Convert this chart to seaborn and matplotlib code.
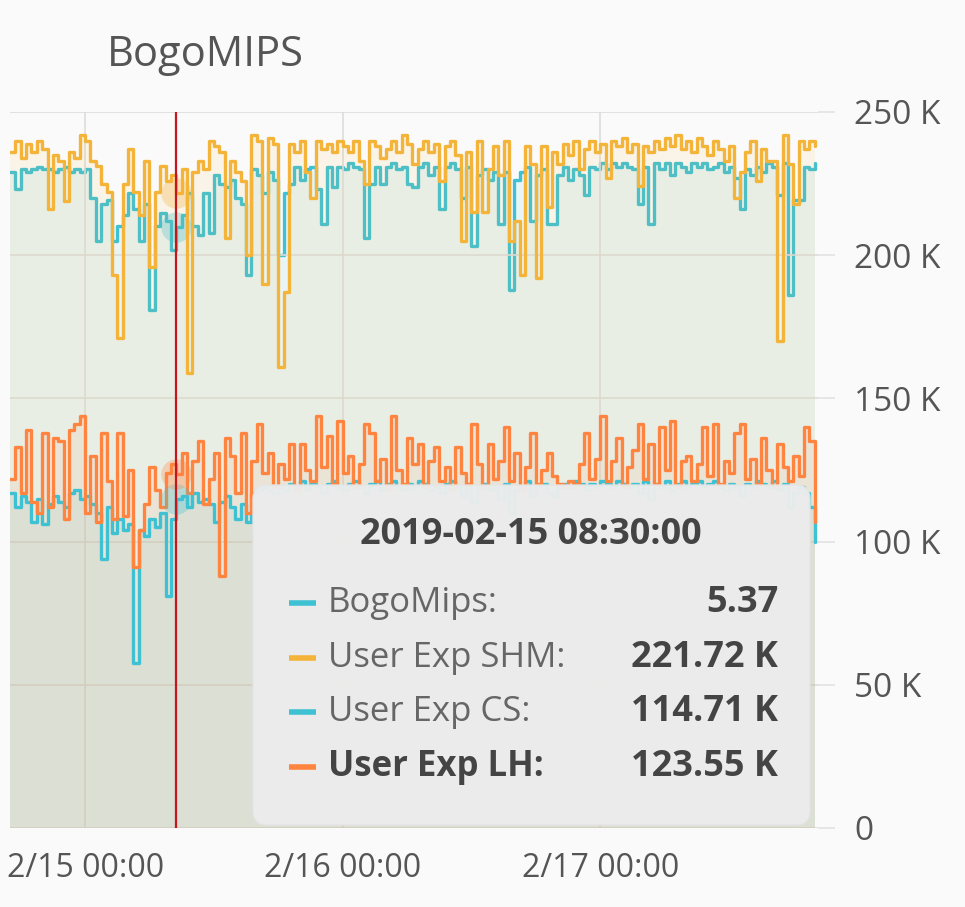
import pandas as pd
import matplotlib
matplotlib.use("Agg")
import matplotlib.pyplot as plt
import matplotlib.dates as mdates
import seaborn as sns
from matplotlib.patches import FancyBboxPatch
from matplotlib.lines import Line2D
from matplotlib.transforms import IdentityTransform

# samples every 30 min, 2019-02-14 17:00 -> 2019-02-17 20:00
times = pd.date_range("2019-02-14 17:00", periods=151, freq="30min")

# BogoMips (left axis, units)
bogomips = [
    5.86, 5.71, 5.89, 5.86, 5.89, 5.91, 5.89, 5.89, 5.86, 5.89,
    5.91, 5.86, 5.89, 5.86, 5.89, 5.63, 5.25, 5.58, 5.61, 5.25,
    5.38, 5.48, 5.68, 5.53, 5.25, 5.58, 4.63, 5.38, 5.50, 5.43,
    5.17, 5.37, 5.48, 5.68, 5.38, 5.30, 5.68, 5.32, 5.84, 5.76,
    5.73, 5.79, 5.63, 5.58, 4.94, 5.89, 5.84, 5.68, 5.86, 5.79,
    5.12, 5.68, 5.76, 5.91, 5.79, 5.89, 5.91, 5.71, 5.40, 5.91,
    5.73, 5.91, 5.89, 5.94, 5.91, 5.89, 5.27, 5.76, 5.91, 5.76,
    5.91, 5.94, 5.89, 5.91, 5.76, 5.73, 5.91, 5.94, 5.84, 5.91,
    5.53, 5.91, 5.94, 5.89, 5.63, 5.91, 5.20, 5.84, 5.89, 5.79,
    5.86, 5.40, 5.86, 4.81, 5.79, 5.86, 5.91, 5.43, 5.84, 5.89,
    5.40, 5.40, 5.84, 5.91, 5.79, 5.89, 5.84, 5.66, 5.91, 5.89,
    5.94, 5.89, 5.94, 5.91, 5.94, 5.91, 5.89, 5.58, 5.91, 5.40,
    5.94, 5.89, 5.94, 5.84, 5.94, 5.91, 5.86, 5.94, 5.91, 5.94,
    5.89, 5.91, 5.94, 5.86, 5.91, 5.81, 5.53, 5.89, 5.84, 5.91,
    5.86, 5.94, 5.91, 5.66, 5.94, 4.76, 5.61, 5.61, 5.91, 5.89,
    5.94,
]

# User Exp SHM (K)
shm = [
    236, 240, 234, 239, 236, 240, 237, 216, 235, 233,
    219, 236, 234, 242, 240, 233, 231, 225, 222, 193,
    171, 225, 237, 222, 214, 233, 196, 222, 231, 226,
    228, 221.72, 230, 159, 229, 233, 230, 240, 238, 236,
    206, 233, 229, 226, 200, 242, 240, 190, 241, 239,
    161, 187, 239, 236, 240, 229, 220, 240, 237, 239,
    236, 240, 238, 236, 240, 233, 225, 240, 238, 234,
    237, 240, 236, 242, 239, 232, 237, 240, 236, 239,
    226, 238, 240, 235, 205, 236, 215, 240, 215, 230,
    238, 228, 240, 205, 212, 193, 238, 232, 192, 238,
    217, 236, 232, 239, 235, 240, 230, 237, 240, 236,
    239, 227, 240, 238, 241, 236, 239, 224, 238, 236,
    240, 237, 241, 238, 242, 237, 240, 236, 241, 238,
    235, 240, 237, 233, 238, 220, 229, 236, 240, 226,
    237, 233, 233, 170, 242, 232, 218, 240, 237, 240,
    238,
]

# User Exp CS (K)
cs = [
    117, 112, 116, 114, 107, 115, 106, 113, 116, 114,
    112, 117, 118, 115, 116, 113, 110, 94, 112, 103,
    108, 104, 106, 57.5, 104, 102, 108, 105, 110, 81,
    108, 114.71, 116, 112, 117, 114, 115, 113, 107, 114,
    116, 112, 108, 113, 107, 117, 118, 119, 118, 117,
    119, 118, 120, 119, 121, 118, 120, 119, 117, 120,
    121, 119, 118, 120, 121, 119, 117, 120, 121, 118,
    120, 121, 119, 118, 120, 119, 121, 120, 118, 119,
    117, 120, 121, 119, 116, 120, 114, 119, 120, 118,
    119, 115, 120, 110, 118, 119, 121, 116, 119, 120,
    117, 116, 119, 120, 119, 121, 120, 118, 120, 119,
    121, 120, 119, 121, 120, 119, 120, 117, 121, 115,
    120, 119, 121, 118, 120, 121, 119, 120, 121, 119,
    120, 121, 119, 118, 120, 119, 116, 120, 119, 121,
    120, 119, 121, 118, 120, 112, 117, 119, 117, 112,
    100,
]

# User Exp LH (K)
lh = [
    122, 133, 117, 139, 114, 110, 138, 112, 136, 135,
    108, 139, 141, 144, 110, 130, 107, 138, 121, 108,
    138, 109, 125, 91, 104, 113, 126, 118, 112, 124,
    127, 123.55, 131, 117, 128, 135, 113, 122, 131, 88,
    136, 130, 117, 138, 110, 128, 141, 124, 131, 119,
    127, 122, 134, 118, 134, 125, 121, 144, 126, 137,
    120, 142, 124, 130, 119, 127, 141, 138, 121, 129,
    118, 144, 125, 120, 136, 127, 134, 119, 128, 133,
    121, 126, 118, 133, 124, 120, 141, 127, 119, 134,
    122, 128, 140, 121, 131, 118, 126, 138, 120, 125,
    131, 123, 120, 119, 121, 120, 127, 138, 122, 129,
    144, 121, 128, 136, 119, 126, 132, 141, 122, 134,
    120, 140, 125, 142, 119, 128, 130, 121, 127, 140,
    123, 141, 120, 128, 124, 138, 141, 122, 129, 120,
    136, 125, 119, 134, 126, 121, 130, 123, 140, 135,
    107,
]

hover = 31  # 2019-02-15 08:30

BG = "#fafafa"
CYAN = "#3ec1d3"
YELLOW = "#f4b43a"
ORANGE = "#ff8440"
RED = "#c4161c"
TXT = "#555555"

df = pd.DataFrame({"time": times, "BogoMips": bogomips,
                   "User Exp SHM": shm, "User Exp CS": cs, "User Exp LH": lh})

sns.set_style("white", {"axes.facecolor": BG, "figure.facecolor": BG})
plt.rcParams["font.family"] = ["Open Sans", "DejaVu Sans"]

W, H = 965, 907
fig = plt.figure(figsize=(W / 100, H / 100), dpi=100, facecolor=BG)
ax = fig.add_axes([10 / W, 79 / H, 808 / W, 716 / H])
ax2 = ax.twinx()
ax.set_zorder(2)
ax2.set_zorder(1)
ax.patch.set_visible(False)
ax2.patch.set_visible(True)
ax2.patch.set_facecolor(BG)

# BogoMips on its own (hidden) axis
ax2.fill_between(df["time"], 0, df["BogoMips"], step="post", color=CYAN, alpha=0.09, lw=0)
sns.lineplot(data=df, x="time", y="BogoMips", ax=ax2, color=CYAN, lw=2.4, drawstyle="steps-post")
ax2.set_ylim(0, 6.4)
ax2.set_yticks([])
ax2.set_ylabel("")

for col, c in [("User Exp SHM", YELLOW), ("User Exp CS", CYAN), ("User Exp LH", ORANGE)]:
    ax.fill_between(df["time"], 0, df[col], step="post", color=c, alpha=0.09, lw=0)
for col, c in [("User Exp SHM", YELLOW), ("User Exp CS", CYAN), ("User Exp LH", ORANGE)]:
    sns.lineplot(data=df, x="time", y=col, ax=ax, color=c, lw=2.4, drawstyle="steps-post")

ax.set_xlim(times[0], pd.Timestamp("2019-02-17 20:18"))
ax.set_ylim(0, 250)
ax.yaxis.tick_right()
ax.set_yticks([0, 50, 100, 150, 200, 250])
ax.set_yticklabels(["0", "50 K", "100 K", "150 K", "200 K", "250 K"])
ax.xaxis.set_major_locator(mdates.DayLocator())
ax.xaxis.set_major_formatter(mdates.DateFormatter("%-m/%d %H:%M"))
ax.tick_params(axis="y", length=12, width=1.2, color="#e2e2e2", pad=14,
               labelsize=24, labelcolor=TXT)
ax.tick_params(axis="x", length=0, pad=17, labelsize=23, labelcolor=TXT)
ax.grid(True, color="#dcdcdc", lw=1.2)
ax.set_xlabel("")
ax.set_ylabel("")
for a in (ax, ax2):
    for s in a.spines.values():
        s.set_visible(False)

# hover cursor and point halos
ax.axvline(times[hover], color=RED, lw=1.6, zorder=6)
for v, c in [(shm[hover], YELLOW), (cs[hover], CYAN), (lh[hover], ORANGE)]:
    ax.scatter([times[hover]], [v], s=480, color=c, alpha=0.3, lw=0, zorder=5)
ax2.scatter([times[hover]], [bogomips[hover]], s=480, color=CYAN, alpha=0.3, lw=0, zorder=5)

# panel title
fig.text(205 / W, 1 - 55 / H, "BogoMIPS", ha="center", va="center", fontsize=30, color=TXT)

# tooltip
box = FancyBboxPatch((253, H - 825), 557, 340, boxstyle="round,pad=0,rounding_size=14",
                     transform=IdentityTransform(), facecolor="#ececec", edgecolor="#e4e4e4",
                     lw=1, alpha=0.97, zorder=10)
fig.add_artist(box)
fig.text(531 / W, 1 - 535 / H, times[hover].strftime("%Y-%m-%d %H:%M:%S"),
         ha="center", va="center", fontsize=26, fontweight="bold", color="#444444", zorder=11)

rows = [
    ("BogoMips:", f"{bogomips[hover]:.2f}", CYAN, False),
    ("User Exp SHM:", f"{shm[hover]:.2f} K", YELLOW, False),
    ("User Exp CS:", f"{cs[hover]:.2f} K", CYAN, False),
    ("User Exp LH:", f"{lh[hover]:.2f} K", ORANGE, True),
]
for k, (name, val, c, hl) in enumerate(rows):
    yy = 1 - (603 + k * 54.7) / H
    fig.add_artist(Line2D([289 / W, 316 / W], [yy, yy], transform=fig.transFigure,
                          color=c, lw=4, solid_capstyle="butt", zorder=11))
    fig.text(328 / W, yy, name, ha="left", va="center", fontsize=25,
             fontweight="bold" if hl else "normal",
             color="#444444" if hl else "#666666", zorder=11)
    fig.text(778 / W, yy, val, ha="right", va="center", fontsize=26,
             fontweight="bold", color="#444444", zorder=11)

fig.savefig("out.png", dpi=100, facecolor=BG)
